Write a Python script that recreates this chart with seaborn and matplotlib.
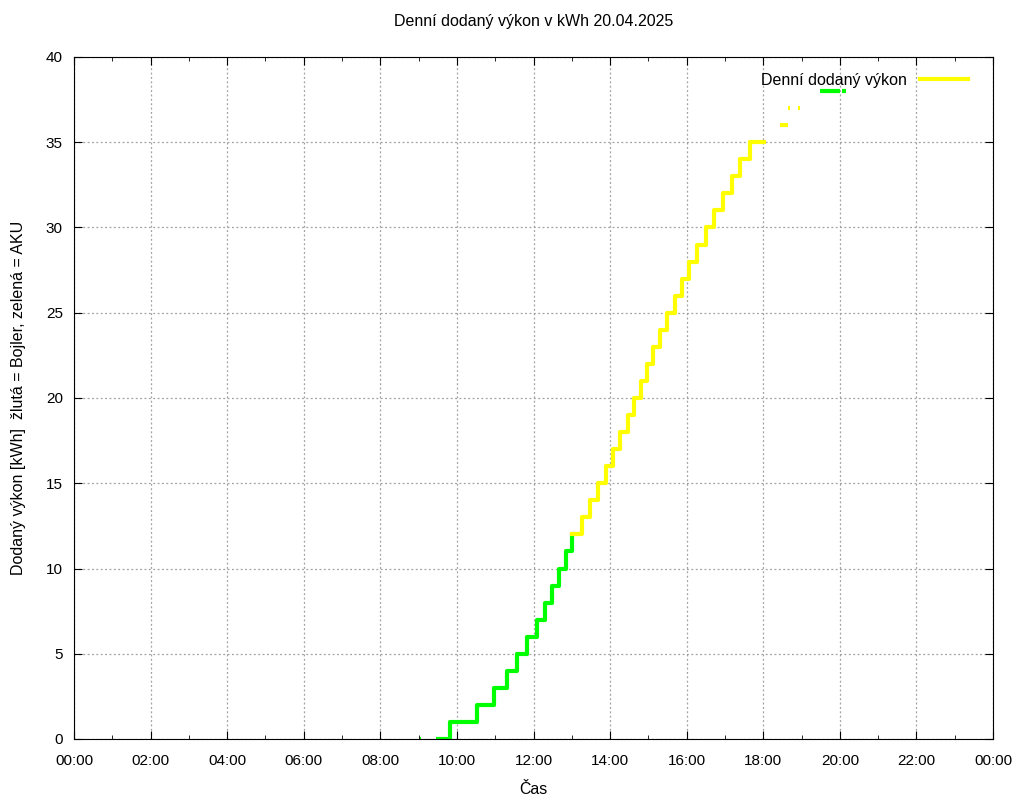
import matplotlib
matplotlib.use("Agg")
import matplotlib.pyplot as plt
import seaborn as sns
import pandas as pd

plt.rcParams["font.family"] = "Liberation Sans"

# Green (AKU) steps: start times (hours), values; last end time
green_t = [9.50, 9.82, 10.53, 10.97, 11.30, 11.58, 11.83, 12.08, 12.30, 12.48, 12.66, 12.84, 13.00]
green_v = [0, 1, 2, 3, 4, 5, 6, 7, 8, 9, 10, 11, 12]
green_end = 13.03
# Yellow (Bojler) steps
yellow_t = [13.00, 13.27, 13.47, 13.68, 13.89, 14.08, 14.26, 14.46, 14.62, 14.80, 14.96, 15.12,
            15.30, 15.48, 15.69, 15.88, 16.06, 16.27, 16.50, 16.71, 16.95, 17.18, 17.39, 17.65]
yellow_v = [12, 13, 14, 15, 16, 17, 18, 19, 20, 21, 22, 23, 24, 25, 26, 27, 28, 29, 30, 31, 32, 33, 34, 35]
yellow_end = 17.96
# isolated short segments: (start, end, value)
yellow_bits = [(18.02, 18.08, 35), (18.43, 18.64, 36), (18.64, 18.70, 37), (18.90, 18.96, 37)]
green_bits = [(9.03, 9.07, 0), (19.48, 20.00, 38), (20.06, 20.15, 38)]

xticks = list(range(0, 25, 2))
xlabels = [f"{h % 24:02d}:00" for h in xticks]
yticks = list(range(0, 41, 5))

GREEN = "#00ff00"
YELLOW = "#ffff00"
LW = 3.0

fig = plt.figure(figsize=(10.24, 8), dpi=100)
ax = fig.add_axes([74/1024, 1-739/800, (993-74)/1024, (739-57)/800])

def steps(ts, vs, end):
    xs, ys = [], []
    for i, (t, v) in enumerate(zip(ts, vs)):
        nxt = ts[i+1] if i+1 < len(ts) else end
        xs += [t, nxt]
        ys += [v, v]
    return pd.DataFrame({"x": xs, "y": ys})

sns.lineplot(data=steps(green_t, green_v, green_end), x="x", y="y", sort=False,
             color=GREEN, lw=LW, ax=ax, estimator=None)
sns.lineplot(data=steps(yellow_t, yellow_v, yellow_end), x="x", y="y", sort=False,
             color=YELLOW, lw=LW, ax=ax, estimator=None, label="Denní dodaný výkon")
for s, e, v in yellow_bits:
    sns.lineplot(x=[s, e], y=[v, v], color=YELLOW, lw=LW, ax=ax, solid_capstyle="butt")
for s, e, v in green_bits:
    sns.lineplot(x=[s, e], y=[v, v], color=GREEN, lw=LW, ax=ax, solid_capstyle="butt")

ax.set_xlim(0, 24)
ax.set_ylim(0, 40)
ax.set_xticks(xticks)
ax.set_xticklabels(xlabels)
ax.set_xticks(range(0, 25), minor=True)
ax.set_yticks(yticks)
ax.tick_params(direction="in", top=True, right=True, which="both", labelsize=11)
ax.tick_params(axis="x", pad=11)
ax.tick_params(axis="y", pad=8)
ax.tick_params(which="major", length=6)
ax.tick_params(which="minor", length=3)
ax.grid(True, which="major", color="#a0a0a0", linestyle=(0, (1.5, 2)), lw=0.9)
ax.set_axisbelow(True)
ax.set_xlabel("Čas", fontsize=11.5, labelpad=10)
ax.set_ylabel("Dodaný výkon [kWh]  žlutá = Bojler, zelená = AKU", fontsize=11.5, labelpad=14)
ax.set_title("Denní dodaný výkon v kWh 20.04.2025", fontsize=11.5, pad=22)
leg = ax.legend(loc="upper right", frameon=False, fontsize=11.5, markerfirst=False,
                handlelength=3.0, borderaxespad=0.6, bbox_to_anchor=(0.99, 1.0))
for l in leg.get_lines():
    l.set_linewidth(LW)

fig.savefig("out.png", dpi=100)
